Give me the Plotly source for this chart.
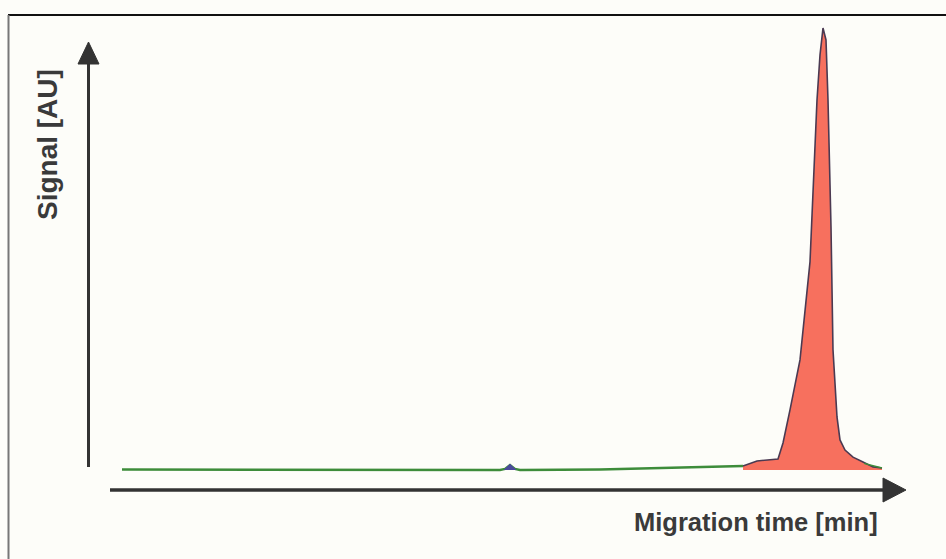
import plotly.graph_objects as go

# ---- data (migration time in min, signal in AU) ----
baseline_time = [3.05, 5.0, 7.5, 10.0, 12.5, 12.625, 12.75, 12.875, 13.0, 15.0, 16.0, 17.5, 18.575]
baseline_signal = [0.11, 0.11, 0.0, 0.0, 0.0, 0.23, 1.13, 0.23, 0.0, 0.11, 0.34, 0.57, 0.90]

bump_time = [12.6, 12.75, 12.9]
bump_signal = [0.0, 1.3, 0.0]

peak_time = [18.575, 18.925, 19.45, 19.575, 19.75, 20.0, 20.25, 20.325, 20.425, 20.5, 20.575,
             20.65, 20.7, 20.775, 20.825, 20.925, 21.0, 21.125, 21.325, 21.575, 21.825, 22.05]
peak_signal = [0.90, 2.04, 2.49, 6.1, 13.6, 24.9, 47.1, 62.2, 83.7, 93.9, 100.0,
               97.3, 83.7, 55.0, 27.2, 12.0, 6.8, 4.5, 2.9, 1.8, 0.7, 0.45]

tail_time = [21.6, 22.05]
tail_signal = [1.5, 0.45]

x_label = "Migration time [min]"
y_label = "Signal [AU]"

W, H = 946, 559
PX_PER_MIN = 40.0
Y0_PX = 470.0
PX_PER_AU = 4.42


def px(xp):
    return xp / W


def py(yp):
    return 1 - yp / H


fig = go.Figure()

fig.add_trace(go.Scatter(x=peak_time, y=peak_signal, mode="lines", fill="tozeroy",
                         fillcolor="#f7705e", line=dict(color="#4b3a52", width=1.6),
                         hoverinfo="skip", showlegend=False))
fig.add_trace(go.Scatter(x=baseline_time, y=baseline_signal, mode="lines",
                         line=dict(color="#3d8c3a", width=2.4),
                         hoverinfo="skip", showlegend=False))
fig.add_trace(go.Scatter(x=bump_time, y=bump_signal, mode="lines", fill="toself",
                         fillcolor="#4a4a9a", line=dict(color="#4a4a9a", width=1),
                         hoverinfo="skip", showlegend=False))
fig.add_trace(go.Scatter(x=tail_time, y=tail_signal, mode="lines",
                         line=dict(color="#3d8c3a", width=1.5),
                         hoverinfo="skip", showlegend=False))

axis_color = "#333333"
shapes = [
    # frame
    dict(type="line", xref="paper", yref="paper", x0=px(8), x1=px(946), y0=py(15), y1=py(15),
         line=dict(color="#111111", width=2)),
    dict(type="line", xref="paper", yref="paper", x0=px(8.5), x1=px(8.5), y0=py(15), y1=py(559),
         line=dict(color="#777777", width=2)),
    # y axis arrow
    dict(type="line", xref="paper", yref="paper", x0=px(88.5), x1=px(88.5), y0=py(467), y1=py(60),
         line=dict(color=axis_color, width=3)),
    dict(type="path", xref="paper", yref="paper",
         path=f"M {px(88.5)},{py(42)} L {px(78)},{py(64)} L {px(99)},{py(64)} Z",
         fillcolor=axis_color, line=dict(color=axis_color, width=1)),
    # x axis arrow
    dict(type="line", xref="paper", yref="paper", x0=px(110), x1=px(886), y0=py(490), y1=py(490),
         line=dict(color=axis_color, width=3.5)),
    dict(type="path", xref="paper", yref="paper",
         path=f"M {px(906)},{py(490)} L {px(883)},{py(478)} L {px(883)},{py(502)} Z",
         fillcolor=axis_color, line=dict(color=axis_color, width=1)),
]

annotations = [
    dict(text=y_label, xref="paper", yref="paper", x=px(47), y=py(145), textangle=-90,
         showarrow=False, xanchor="center", yanchor="middle",
         font=dict(family="Arial, Liberation Sans, sans-serif", size=28, color="#3a3a3a", weight=700)),
    dict(text=x_label, xref="paper", yref="paper", x=px(880), y=py(522),
         showarrow=False, xanchor="right", yanchor="middle",
         font=dict(family="Arial, Liberation Sans, sans-serif", size=25.5, color="#3a3a3a", weight=700)),
]

fig.update_layout(
    width=W, height=H,
    margin=dict(l=0, r=0, t=0, b=0),
    paper_bgcolor="#fdfdf9", plot_bgcolor="#fdfdf9",
    xaxis=dict(range=[0, W / PX_PER_MIN], visible=False, fixedrange=True),
    yaxis=dict(range=[-(H - Y0_PX) / PX_PER_AU, Y0_PX / PX_PER_AU], visible=False, fixedrange=True),
    shapes=shapes,
    annotations=annotations,
)

fig.write_html(
    "out.html",
    config={"displayModeBar": False},
    post_script="document.body.style.margin='0';document.body.style.overflow='hidden';"
                "document.documentElement.style.overflow='hidden';",
)
